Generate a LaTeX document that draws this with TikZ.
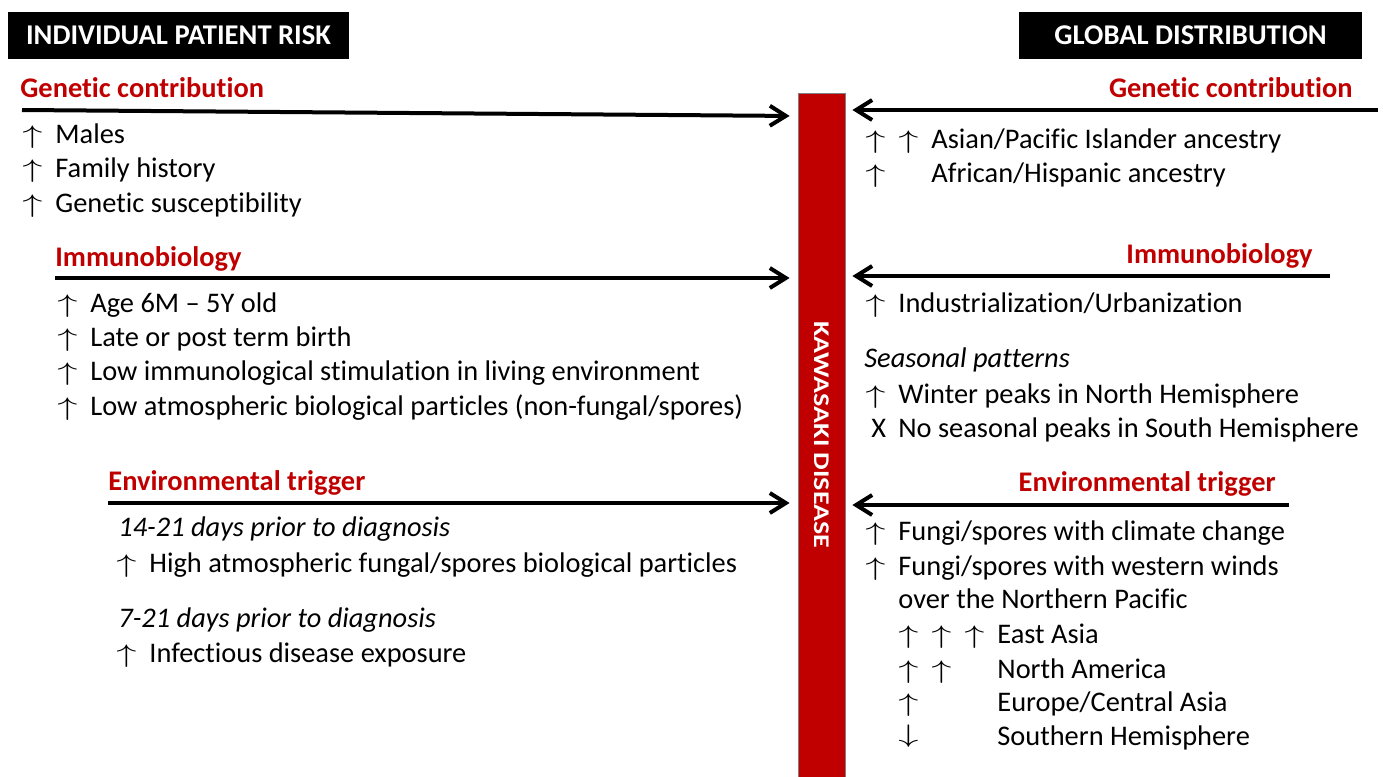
\documentclass[tikz,border=0pt]{standalone}
\usepackage{fontspec}
\setmainfont{Carlito}[Ligatures={NoCommon}]
\usetikzlibrary{arrows.meta}

\definecolor{kdred}{HTML}{C00000}
\newcommand{\up}{\makebox[16.5pt][l]{\scalebox{1.4}[0.88]{$\uparrow$}}}
\newcommand{\down}{\makebox[16.5pt][l]{\raisebox{1.5pt}{\scalebox{1.4}[0.88]{$\downarrow$}}}}
\newcommand{\gap}{\hspace{16.5pt}}

\tikzset{
    banner/.style={fill=black, text=white, inner sep=0pt, minimum height=23.5pt,
        font=\fontsize{14.3}{16}\selectfont\bfseries},
    head/.style={text=kdred, inner sep=0pt, font=\fontsize{14.2}{16}\selectfont\bfseries},
    item/.style={inner sep=0pt, anchor=base west, font=\fontsize{14.2}{16}\selectfont},
    note/.style={item, font=\fontsize{14.2}{16}\selectfont\itshape},
    feed/.style={line width=2pt, -{Straight Barb[length=8pt,width=10pt]}},
}

\begin{document}
\begin{tikzpicture}[x=0.5pt, y=-0.5pt]
        \useasboundingbox (0,0) rectangle (1383,777);
        % banners
        \node[banner, minimum width=170.5pt] (risk) at (178.5,35.5) {INDIVIDUAL PATIENT RISK};
        \node[banner, minimum width=171.5pt] (global) at (1190.5,35.5) {GLOBAL DISTRIBUTION};
        % centre bar
        \node[draw=gray, fill=kdred, text=white, rotate=-90, inner sep=0pt,
            minimum width=342pt, minimum height=23.5pt,
            font=\fontsize{14}{16}\selectfont\bfseries] (kd) at (821.5,435)
            {\scalebox{1}[0.8]{KAWASAKI DISEASE}};
        % left: individual patient risk
        \node[head, anchor=base west] (lgen) at (20,97) {Genetic contribution};
        \node[item] (lgen1) at (22,143) {\up Males};
        \node[item] (lgen2) at (22,177) {\up Family history};
        \node[item] (lgen3) at (22,212) {\up Genetic susceptibility};
        \node[head, anchor=base west] (limm) at (55,266) {Immunobiology};
        \node[item] (limm1) at (57,312) {\up Age 6M -- 5Y old};
        \node[item] (limm2) at (57,346) {\up Late or post term birth};
        \node[item] (limm3) at (57,380) {\up Low immunological stimulation in living environment};
        \node[item] (limm4) at (57,415) {\up Low atmospheric biological particles (non-fungal/spores)};
        \node[head, anchor=base west] (lenv) at (108,490) {Environmental trigger};
        \node[note] (lenv1) at (118,536) {14-21 days prior to diagnosis};
        \node[item] (lenv2) at (116,572) {\up High atmospheric fungal/spores biological particles};
        \node[note] (lenv3) at (118,627) {7-21 days prior to diagnosis};
        \node[item] (lenv4) at (116,662) {\up Infectious disease exposure};
        % right: global distribution
        \node[head, anchor=base east] (rgen) at (1353,97) {Genetic contribution};
        \node[item] (rgen1) at (865,148) {\up\up Asian/Pacific Islander ancestry};
        \node[item] (rgen2) at (865,182) {\up\gap African/Hispanic ancestry};
        \node[head, anchor=base east] (rimm) at (1313,263) {Immunobiology};
        \node[item] (rimm1) at (865,312) {\up Industrialization/Urbanization};
        \node[note] (rimm2) at (864,367) {Seasonal patterns};
        \node[item] (rimm3) at (865,403) {\up Winter peaks in North Hemisphere};
        \node[item] (rimm4) at (865,437) {\makebox[16.5pt][l]{\hspace{3pt}X}No seasonal peaks in South Hemisphere};
        \node[head, anchor=base east] (renv) at (1276,491) {Environmental trigger};
        \node[item] (renv1) at (865,540) {\up Fungi/spores with climate change};
        \node[item] (renv2) at (865,575) {\up Fungi/spores with western winds};
        \node[item] (renv3) at (865,608) {\gap over the Northern Pacific};
        \node[item] (renv4) at (865,643) {\gap\up\up\up East Asia};
        \node[item] (renv5) at (865,678) {\gap\up\up\gap North America};
        \node[item] (renv6) at (865,711) {\gap\up\gap\gap Europe/Central Asia};
        \node[item] (renv7) at (865,745) {\gap\down\gap\gap Southern Hemisphere};
        % arrows into the bar
        \coordinate (lgenin) at (22,110);
        \coordinate (limmin) at (55,278);
        \coordinate (lenvin) at (108,503);
        \coordinate (rgenin) at (1378,110);
        \coordinate (rimmin) at (1330,276);
        \coordinate (renvin) at (1289,505);
        \draw[feed, shorten >=4pt] (lgenin) -- ([yshift=-3pt]lgenin -| kd.south);
        \draw[feed, shorten >=4pt] (limmin) -- (limmin -| kd.south);
        \draw[feed, shorten >=4pt] (lenvin) -- (lenvin -| kd.south);
        \draw[feed, shorten >=3.5pt] (rgenin) -- (rgenin -| kd.north);
        \draw[feed, shorten >=3.5pt] (rimmin) -- (rimmin -| kd.north);
        \draw[feed, shorten >=3.5pt] (renvin) -- (renvin -| kd.north);
    \end{tikzpicture}
\end{document}
